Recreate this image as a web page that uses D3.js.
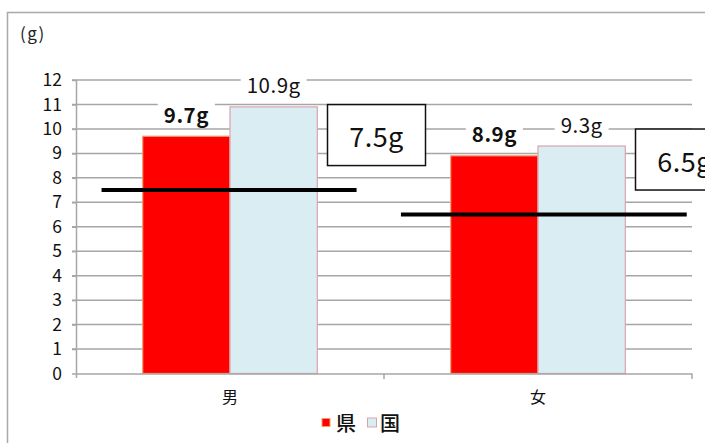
<!DOCTYPE html>
<html>
<head>
<meta charset="utf-8">
<script src="https://cdn.jsdelivr.net/npm/d3@7"></script>
<style>
  html, body { margin: 0; padding: 0; background: #fff; }
  svg { display: block; font-family: "Noto Sans CJK JP", "Noto Sans", sans-serif; }
</style>
</head>
<body>
<svg id="chart" width="705" height="443"></svg>
<script>
// Salt intake (g/day): prefecture vs national, with target lines
const categories = ["男", "女"];
const seriesNames = ["県", "国"];
const prefValues = [9.7, 8.9];
const nationalValues = [10.9, 9.3];
const targetValues = [7.5, 6.5];
const targetLabels = ["7.5g", "6.5g"];
const yTickValues = [0, 1, 2, 3, 4, 5, 6, 7, 8, 9, 10, 11, 12];
const unitLabel = "(g)";

const seriesColors = ["#ff0000", "#daedf3"];
const seriesStrokes = ["#f0a070", "#d9a3ad"];

const svg = d3.select("#chart");
const plot = { left: 76, right: 692, top: 80, bottom: 373.5 };

const y = d3.scaleLinear().domain([0, 12]).range([plot.bottom, plot.top]);
const x = d3.scaleBand().domain(categories).range([plot.left, plot.right]).padding(0);
const xs = d3.scaleBand().domain(seriesNames).range([0, x.bandwidth()])
  .paddingInner(0).paddingOuter(0.764);

const gridColor = "#a6a6a6";

// outer frame
svg.append("path")
  .attr("d", `M7.5,443 V12.5 H705`)
  .attr("fill", "none").attr("stroke", "#a9a9a9").attr("stroke-width", 1.5);

// unit label
svg.append("text").attr("x", 20).attr("y", 40)
  .attr("font-size", 17).attr("letter-spacing", 1.5).attr("fill", "#222").text(unitLabel);

// horizontal gridlines
svg.append("g").selectAll("line")
  .data(yTickValues.filter(v => v > 0))
  .join("line")
  .attr("x1", plot.left - 4).attr("x2", plot.right)
  .attr("y1", d => y(d)).attr("y2", d => y(d))
  .attr("stroke", gridColor).attr("stroke-width", 1.5);

// y axis
const yAxis = svg.append("g")
  .attr("transform", `translate(${plot.left},0)`)
  .call(d3.axisLeft(y).tickValues(yTickValues).tickSizeInner(4).tickSizeOuter(0).tickPadding(10));
yAxis.select(".domain").attr("stroke", gridColor).attr("stroke-width", 1.5)
  .attr("d", `M0.5,${plot.top}V${plot.bottom + 4.5}`);
yAxis.selectAll(".tick line").attr("stroke", gridColor).attr("stroke-width", 1.5);
yAxis.selectAll(".tick text").attr("font-size", 17.5).attr("fill", "#111")
  .attr("font-family", "'Noto Sans CJK JP', sans-serif");

// bars
const rows = categories.map((c, i) => ({ cat: c, vals: [prefValues[i], nationalValues[i]] }));
const groups = svg.append("g").selectAll("g").data(rows).join("g")
  .attr("transform", d => `translate(${x(d.cat)},0)`);
groups.selectAll("rect")
  .data(d => d.vals.map((v, j) => ({ s: seriesNames[j], v, j })))
  .join("rect")
  .attr("x", d => xs(d.s)).attr("width", xs.bandwidth())
  .attr("y", d => y(d.v)).attr("height", d => y(0) - y(d.v))
  .attr("fill", d => seriesColors[d.j])
  .attr("stroke", d => seriesStrokes[d.j]).attr("stroke-width", 1.2);

// x axis baseline and category separators
const xAxis = svg.append("g").attr("transform", `translate(0,${plot.bottom})`)
  .call(d3.axisBottom(x).tickSize(0).tickPadding(18));
xAxis.select(".domain").attr("stroke", gridColor).attr("stroke-width", 1.5)
  .attr("d", `M${plot.left},0.5H${plot.right}`);
xAxis.selectAll(".tick text").attr("font-size", 16).attr("fill", "#111")
  .attr("font-family", "'Noto Sans CJK JP', sans-serif");
const bounds = categories.map(c => x(c)).concat([x.range()[1]]);
xAxis.selectAll("line.sep").data(bounds.slice(1)).join("line").attr("class", "sep")
  .attr("x1", d => d).attr("x2", d => d).attr("y1", 0).attr("y2", 5.5)
  .attr("stroke", gridColor).attr("stroke-width", 1.5);

// value labels above bars
const labels = svg.append("g");
rows.forEach(r => {
  r.vals.forEach((v, j) => {
    const cx = x(r.cat) + xs(seriesNames[j]) + xs.bandwidth() / 2;
    const g = labels.append("g");
    const t = g.append("text")
      .attr("x", cx).attr("y", y(v) - 13.5)
      .attr("text-anchor", "middle")
      .attr("font-size", 20.5)
      .attr("letter-spacing", 0.5)
      .attr("font-weight", j === 0 ? 700 : 400)
      .attr("fill", "#111")
      .text(`${v.toFixed(1)}g`);
    const bb = t.node().getBBox();
    g.insert("rect", "text")
      .attr("x", bb.x - 6).attr("y", bb.y + 2)
      .attr("width", bb.width + 12).attr("height", bb.height - 4)
      .attr("fill", "#fff");
  });
});

// target lines with boxed labels
const lineSpan = [[0.083, 0.911], [0.055, 0.983]];
categories.forEach((c, i) => {
  const x0 = x(c);
  const w = x.bandwidth();
  const ly = y(targetValues[i]);
  svg.append("line")
    .attr("x1", x0 + w * lineSpan[i][0]).attr("x2", x0 + w * lineSpan[i][1])
    .attr("y1", ly).attr("y2", ly)
    .attr("stroke", "#000").attr("stroke-width", 4);
  const bx = x0 + 251.5, bw = 98, bh = 61, bcy = ly - 55;
  svg.append("rect")
    .attr("x", bx).attr("y", bcy - bh / 2).attr("width", bw).attr("height", bh)
    .attr("fill", "#fff").attr("stroke", "#111").attr("stroke-width", 1.5);
  svg.append("text")
    .attr("x", bx + bw / 2).attr("y", bcy + 12)
    .attr("text-anchor", "middle").attr("font-size", 27).attr("letter-spacing", 0.5)
    .attr("fill", "#111")
    .text(targetLabels[i]);
});

// legend
const legend = svg.append("g").attr("transform", "translate(322,0)");
const legendItems = legend.selectAll("g").data(seriesNames).join("g")
  .attr("transform", (d, i) => `translate(${i * 45},0)`);
legendItems.append("rect")
  .attr("x", (d, i) => i === 0 ? 0 : 0.5).attr("y", (d, i) => i === 0 ? 418.5 : 418)
  .attr("width", (d, i) => i === 0 ? 8 : 9).attr("height", (d, i) => i === 0 ? 8 : 9)
  .attr("fill", (d, i) => seriesColors[i])
  .attr("stroke", (d, i) => seriesStrokes[i]).attr("stroke-width", 1);
legendItems.append("text")
  .attr("x", (d, i) => i === 0 ? 14 : 13).attr("y", 431)
  .attr("font-size", 20).attr("font-weight", 500).attr("fill", "#111")
  .text(d => d);
</script>
</body>
</html>
